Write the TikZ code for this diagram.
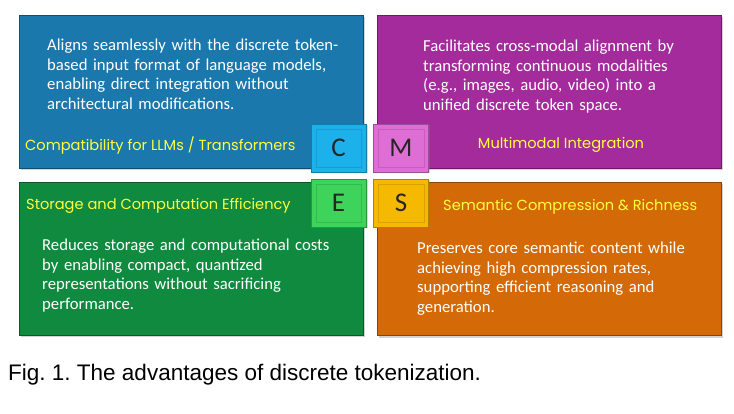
\documentclass[tikz,border=0pt]{standalone}
\usepackage{fontspec}
\setmainfont{Carlito}
\newfontfamily\titlefont{Poppins}
\newfontfamily\capfont{Liberation Sans}
\usetikzlibrary{calc,positioning,shadows}
\frenchspacing
\definecolor{panelblue}{HTML}{1B78AD}
\definecolor{panelpurple}{HTML}{A42B9C}
\definecolor{panelgreen}{HTML}{108A3F}
\definecolor{panelorange}{HTML}{D36A07}
\definecolor{keyblue}{HTML}{1DB1EC}
\definecolor{keypink}{HTML}{DE6ED6}
\definecolor{keygreen}{HTML}{3ED35A}
\definecolor{keygold}{HTML}{F6B902}
\definecolor{titleyellow}{HTML}{FFFF3C}

\begin{document}
\begin{tikzpicture}[x=1pt,y=-1pt,
  panel/.style={draw=#1!65!black,fill=#1,minimum width=344pt,minimum height=153pt,inner sep=0pt,
    drop shadow={opacity=0.35,shadow xshift=2pt,shadow yshift=-2pt}},
  key/.style={draw=#1!70!black,fill=#1,minimum width=55pt,minimum height=48pt,inner sep=0pt,
    font=\fontsize{27}{27}\selectfont,text=black!85,drop shadow={opacity=0.3,shadow xshift=1.5pt,shadow yshift=-1.5pt}},
  body/.style={anchor=north west,inner sep=0pt,align=left,text width=320pt,text=white,
    font=\fontsize{16.7}{19.5}\selectfont},
  heading/.style={inner sep=0pt,text=titleyellow,font=\titlefont\fontsize{14.6}{16}\selectfont}]
  \useasboundingbox (0,0) rectangle (734,414);
  % four panels
  \node[panel=panelblue] (compat) at (191,91.5) {};
  \node[panel=panelpurple] (multi) at (549,91.5) {};
  \node[panel=panelgreen] (store) at (191,258.5) {};
  \node[panel=panelorange] (sem) at (549,259) {};
  % descriptions
  \node[body] (compattxt) at (47,39) {Aligns seamlessly with the discrete token-\\based input format of language models,\\enabling direct integration without\\architectural modifications.};
  \node[body] (multitxt) at (423,40) {Facilitates cross-modal alignment by\\transforming continuous modalities\\(e.g., images, audio, video) into a\\unified discrete token space.};
  \node[body] (storetxt) at (42,239) {Reduces storage and computational costs\\by enabling compact, quantized\\representations without sacrificing\\performance.};
  \node[body] (semtxt) at (417,242) {Preserves core semantic content while\\achieving high compression rates,\\supporting efficient reasoning and\\generation.};
  % headings
  \node[heading,anchor=west] (compathd) at (25,146) {Compatibility for LLMs / Transformers};
  \node[heading] (multihd) at (561,145) {Multimodal Integration};
  \node[heading,anchor=west] (storehd) at (26,206) {Storage and Computation Efficiency};
  \node[heading,anchor=west] (semhd) at (443,207) {Semantic Compression \& Richness};
  % the C-M-E-S keys
  \node[key=keyblue] (C) at (338.5,148) {C};
  \node[key=keypink] (M) at (401,148) {M};
  \node[key=keygreen] (E) at (338.5,203) {E};
  \node[key=keygold] (S) at (401,203) {S};
  \foreach \k/\c in {C/keyblue,M/keypink,E/keygreen,S/keygold}
    \draw[\c!80!black,opacity=0.6] ($(\k.north west)+(5,5)$) rectangle ($(\k.south east)+(-5,-5)$);
  \node[anchor=base west,inner sep=0pt,font=\capfont\fontsize{22.5}{26}\selectfont] (caption) at (8,380)
    {Fig. 1. The advantages of discrete tokenization.};
\end{tikzpicture}
\end{document}
